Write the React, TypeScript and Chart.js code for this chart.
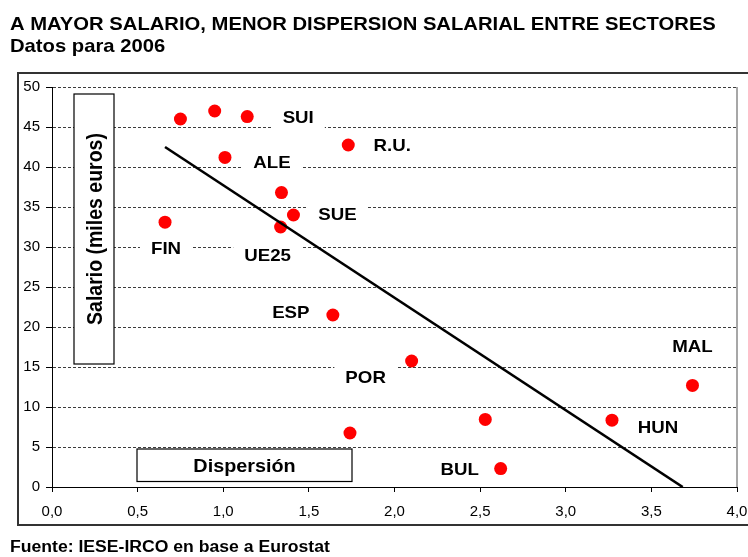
import React, { useEffect, useRef } from 'react';
import { Chart, registerables } from 'chart.js';

Chart.register(...registerables);

const FONT = "'Liberation Sans', Arial, Helvetica, sans-serif";
const SX = 1.1;

// Data
const dispersion = [0.75, 0.95, 1.14, 1.01, 1.73, 1.34, 1.41, 1.335, 0.66, 1.64, 1.74, 2.10, 2.53, 2.62, 3.27, 3.74];
const salary = [46.0, 47.0, 46.3, 41.2, 42.75, 36.8, 34.0, 32.5, 33.1, 21.5, 6.75, 15.75, 8.45, 2.3, 8.35, 12.7];
const countryLabels = ['', '', 'SUI', 'ALE', 'R.U.', '', 'SUE', 'UE25', 'FIN', 'ESP', '', 'POR', '', 'BUL', 'HUN', 'MAL'];
const trendX = [0.66, 3.683];
const trendY = [42.5, 0];
const xRange = [0, 4];
const yRange = [0, 50];
const xStep = 0.5;
const yStep = 5;

const titleText = 'A MAYOR SALARIO, MENOR DISPERSION SALARIAL ENTRE SECTORES';
const subtitleText = 'Datos para 2006';
const sourceText = 'Fuente: IESE-IRCO en base a Eurostat';
const yTitle = 'Salario (miles euros)';
const xTitle = 'Dispersión';

// Label placement (pixel offsets from each point)
const labelOffsets = [
  [0, 0], [0, 0], [51, 0], [47, 5], [44, 0], [0, 0], [44, -1], [-13, 28],
  [1, 26], [-42, -3], [0, 0], [-46, 16], [0, 0], [-41, 0], [46, 7], [0, -39],
];

function drawStretched(ctx: CanvasRenderingContext2D, text: string, x: number, baseline: number, size: number, align: 'left' | 'center' = 'left') {
  ctx.save();
  ctx.font = `bold ${size}px ${FONT}`;
  ctx.fillStyle = '#000';
  ctx.textBaseline = 'alphabetic';
  ctx.textAlign = 'left';
  const w = ctx.measureText(text).width * SX;
  const x0 = align === 'center' ? x - w / 2 : x;
  ctx.translate(x0, baseline);
  ctx.scale(SX, 1);
  ctx.fillText(text, 0, 0);
  ctx.restore();
}

const annotations = {
  id: 'annotations',
  beforeDatasetsDraw(chart: any) {
    const { ctx, chartArea: a, scales } = chart;
    const xs = scales.x;
    const ys = scales.y;
    ctx.save();
    // right border of plot area
    ctx.strokeStyle = '#8a8a8a';
    ctx.lineWidth = 1.5;
    ctx.beginPath();
    ctx.moveTo(a.right, a.top);
    ctx.lineTo(a.right, a.bottom);
    ctx.stroke();

    // data labels with white background
    const ls = 17;
    countryLabels.forEach((t, i) => {
      if (!t) return;
      const cx = xs.getPixelForValue(dispersion[i]) + labelOffsets[i][0];
      const cy = ys.getPixelForValue(salary[i]) + labelOffsets[i][1];
      ctx.font = `bold ${ls}px ${FONT}`;
      const w = ctx.measureText(t).width * SX;
      ctx.fillStyle = '#fff';
      ctx.fillRect(cx - w / 2 - 11, cy - 13, w + 22, 26);
      drawStretched(ctx, t, cx, cy + 0.358 * ls, ls, 'center');
    });

    // Y title box
    const bx = a.left + 22, by = a.top + 7, bw = 40, bh = 270;
    ctx.fillStyle = '#fff';
    ctx.fillRect(bx, by, bw, bh);
    ctx.strokeStyle = '#000';
    ctx.lineWidth = 1.2;
    ctx.strokeRect(bx, by, bw, bh);
    ctx.save();
    ctx.translate(bx + bw / 2, by + bh / 2);
    ctx.scale(SX, 1);
    ctx.rotate(-Math.PI / 2);
    const ts = 19.5;
    ctx.font = `bold ${ts}px ${FONT}`;
    ctx.textAlign = 'center';
    ctx.textBaseline = 'alphabetic';
    ctx.fillStyle = '#000';
    ctx.fillText(yTitle, 0, 0.358 * ts);
    ctx.restore();

    // X title box
    const dx = a.left + 85, dw = 215, dh = 32.5, dy = a.bottom - 38;
    ctx.fillStyle = '#fff';
    ctx.fillRect(dx, dy, dw, dh);
    ctx.strokeStyle = '#000';
    ctx.lineWidth = 1.2;
    ctx.strokeRect(dx, dy, dw, dh);
    drawStretched(ctx, xTitle, dx + dw / 2, dy + dh / 2 + 0.358 * 18, 18, 'center');
    ctx.restore();
  },
  afterDraw(chart: any) {
    const { ctx } = chart;
    ctx.save();
    ctx.strokeStyle = '#333';
    ctx.lineWidth = 2;
    ctx.strokeRect(18, 73, 760, 452);
    ctx.restore();
    drawStretched(ctx, titleText, 10, 30, 18.4);
    drawStretched(ctx, subtitleText, 10, 52, 18.4);
    drawStretched(ctx, sourceText, 10, 552, 16);
  },
};

export default function App() {
  const ref = useRef<HTMLCanvasElement | null>(null);

  useEffect(() => {
    if (!ref.current) return;
    const points = dispersion.map((d, i) => ({ x: d, y: salary[i] }));
    const trend = trendX.map((d, i) => ({ x: d, y: trendY[i] }));
    const chart = new Chart(ref.current, {
      type: 'scatter',
      data: {
        datasets: [
          {
            label: 'Tendencia',
            data: trend,
            showLine: true,
            borderColor: '#000',
            borderWidth: 2.6,
            pointRadius: 0,
            fill: false,
          } as any,
          {
            label: 'Países',
            data: points,
            backgroundColor: '#ff0000',
            borderWidth: 0,
            pointRadius: 6.5,
          },
        ],
      },
      options: {
        animation: false,
        responsive: false,
        devicePixelRatio: 1,
        layout: { padding: { left: 12, right: 11, top: 87, bottom: 35 } },
        plugins: {
          legend: { display: false },
          tooltip: { enabled: false },
          title: { display: false },
        },
        scales: {
          x: {
            type: 'linear',
            min: xRange[0],
            max: xRange[1],
            afterFit: (s: any) => { s.height = 35; s.paddingLeft = 0; s.paddingRight = 0; },
            ticks: {
              stepSize: xStep,
              autoSkip: false,
              maxRotation: 0,
              color: '#000',
              padding: 11,
              font: { family: FONT, size: 15 },
              callback: (v: any) => Number(v).toFixed(1).replace('.', ','),
            },
            grid: { drawOnChartArea: false, drawTicks: true, tickLength: 5, tickColor: '#000', tickWidth: 1 },
            border: { display: true, color: '#000', width: 1 },
          },
          y: {
            type: 'linear',
            min: yRange[0],
            max: yRange[1],
            afterFit: (s: any) => { s.width = 40; s.paddingTop = 0; s.paddingBottom = 0; },
            ticks: {
              stepSize: yStep,
              color: '#000',
              padding: 6,
              font: { family: FONT, size: 15 },
            },
            grid: { color: '#3c3c3c', lineWidth: 1, drawTicks: true, tickLength: 6, tickColor: '#000', tickWidth: 1, tickBorderDash: [] },
            border: { display: true, color: '#000', width: 1, dash: [3, 2] },
          },
        },
      },
      plugins: [annotations],
    } as any);
    return () => chart.destroy();
  }, []);

  return (
    <div style={{ position: 'absolute', left: 0, top: 0, width: 748, height: 557, background: '#fff' }}>
      <canvas ref={ref} width={748} height={557} style={{ display: 'block', width: 748, height: 557 }} />
    </div>
  );
}
